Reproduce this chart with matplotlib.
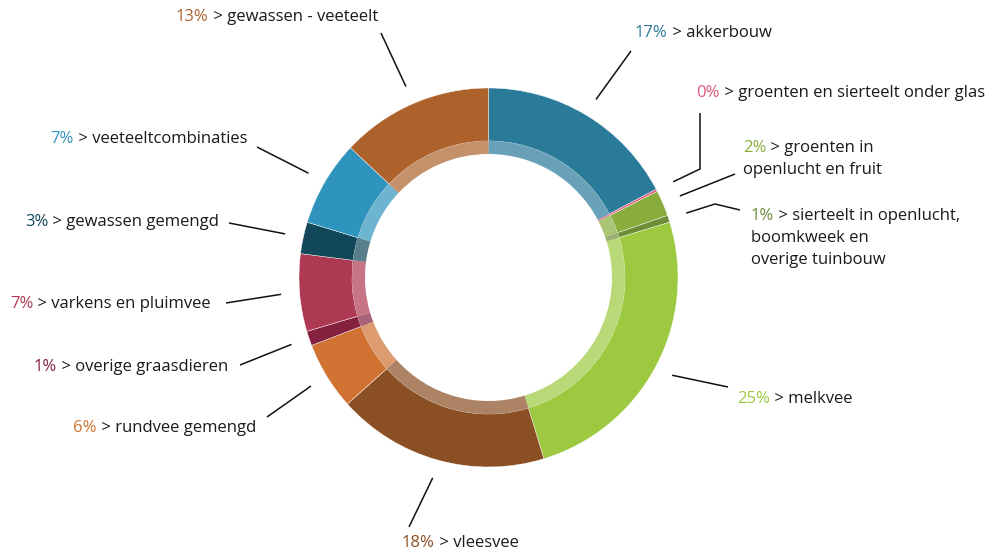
import matplotlib.pyplot as plt
import numpy as np

plt.rcParams['font.family'] = ['Open Sans', 'DejaVu Sans']

# clockwise from 12 o'clock
names = ['akkerbouw', 'groenten en sierteelt onder glas', 'groenten in\nopenlucht en fruit',
         'sierteelt in openlucht,\nboomkweek en\noverige tuinbouw', 'melkvee', 'vleesvee',
         'rundvee gemengd', 'overige graasdieren', 'varkens en pluimvee', 'gewassen gemengd',
         'veeteeltcombinaties', 'gewassen - veeteelt']
shares = [17.3, 0.2, 2.2, 0.6, 25.0, 18.1, 5.8, 1.25, 6.6, 2.7, 7.3, 13.0]
colors = ['#2a7a9a', '#e0587a', '#88ad3c', '#6e8e38', '#9cc940', '#8b4f24',
          '#cf7232', '#85213f', '#ae3953', '#12475a', '#2e94bd', '#ad622c']

W, H = 1001, 555
cx, cy = 488.5, 277.5
R_OUT, R_BAND, R_IN = 189.5, 136.5, 123.5

# label layout in pixel coords (y from top): elbows of leader, text anchor, alignment
layout = [
    ([(631, 51)], (635, 33), 'left'),
    ([(700, 169), (700, 113)], (696, 93), 'left'),
    ([(735, 174)], (743, 148), 'left'),
    ([(715, 204), (740, 210)], (751, 216), 'left'),
    ([(728, 387)], (737, 399), 'left'),
    ([(409, 527)], (402, 543), 'left'),
    ([(267, 417)], (256, 428), 'right'),
    ([(240, 365)], (228, 367), 'right'),
    ([(226, 303)], (211, 304), 'right'),
    ([(229, 223)], (219, 222), 'right'),
    ([(257, 147)], (247, 139), 'right'),
    ([(381, 33)], (378, 17), 'right'),
]

fig = plt.figure(figsize=(W / 100, H / 100), dpi=100)
ax = fig.add_axes([0, 0, 1, 1])
ax.set_xlim(0, W)
ax.set_ylim(0, H)
ax.axis('off')

ax.pie(shares, colors=colors, radius=R_OUT, center=(cx, cy), startangle=90,
       counterclock=False, frame=True,
       wedgeprops=dict(width=R_OUT - R_BAND, edgecolor='white', linewidth=0.3))
ax.pie(shares, colors=colors, radius=R_BAND, center=(cx, cy), startangle=90,
       counterclock=False, frame=True,
       wedgeprops=dict(width=R_BAND - R_IN, edgecolor='none', alpha=0.7))
ax.set_xlim(0, W)
ax.set_ylim(0, H)
ax.axis('off')

total = sum(shares)
cum = np.cumsum([0] + shares[:-1])
line_h = 22
for i, name in enumerate(names):
    mid = np.deg2rad((cum[i] + shares[i] / 2) / total * 360)
    sx = cx + 208 * np.sin(mid)
    sy = cy + 208 * np.cos(mid)
    pts, (tx, ty), ha = layout[i]
    xs = [sx] + [p[0] for p in pts]
    ys = [sy] + [H - p[1] for p in pts]
    ax.plot(xs, ys, color='#111111', lw=1.1, solid_capstyle='butt')

    pct = f'{round(shares[i])}%'
    lines = name.split('\n')
    first = ' > ' + lines[0]
    if ha == 'left':
        t = ax.text(tx, H - ty, pct, color=colors[i], fontsize=12, ha='left', va='center')
        ax.annotate(first, xy=(1, 0), xycoords=t, ha='left', va='bottom',
                    color='#1a1a1a', fontsize=12)
        for k, extra in enumerate(lines[1:], start=1):
            ax.text(tx, H - ty - k * line_h, extra, color='#1a1a1a', fontsize=12,
                    ha='left', va='center')
    else:
        t = ax.text(tx, H - ty, first, color='#1a1a1a', fontsize=12, ha='right', va='center')
        ax.annotate(pct, xy=(0, 0), xycoords=t, ha='right', va='bottom',
                    color=colors[i], fontsize=12)

fig.savefig('out.png', dpi=100)
